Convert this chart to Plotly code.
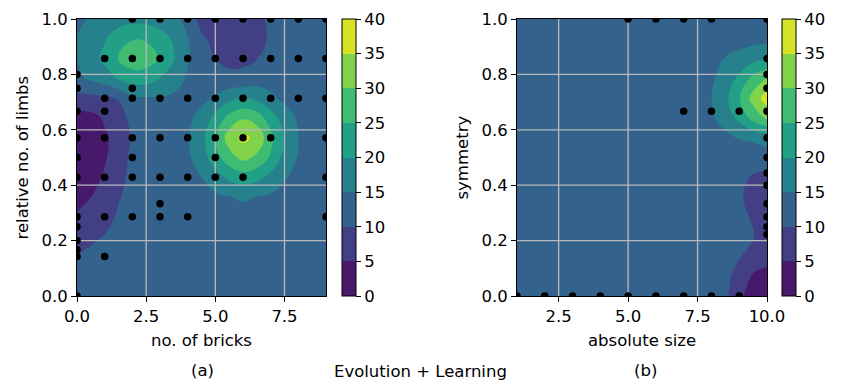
import plotly.graph_objects as go

# ---------------- panel (a): no. of bricks vs relative no. of limbs ----------------
bricks_grid = [0, 0.5, 1, 1.5, 2, 2.5, 3, 3.5, 4, 4.5, 5, 5.5, 6, 6.5, 7, 7.5, 8, 8.5, 9]
limbs_grid = [0, 1/14, 2/14, 3/14, 4/14, 5/14, 6/14, 7/14, 8/14, 9/14, 10/14, 11/14, 12/14, 13/14, 1]
fitness_a = [
    [12.5, 12.5, 12.5, 12.5, 12.5, 12.5, 12.5, 12.5, 12.5, 12.5, 12.5, 12.5, 12.5, 12.5, 12.5, 12.5, 12.5, 12.5, 12.5],
    [12.0, 12.3, 12.4, 12.5, 12.5, 12.5, 12.5, 12.5, 12.5, 12.5, 12.5, 12.5, 12.5, 12.5, 12.5, 12.5, 12.5, 12.5, 12.5],
    [10.2, 11.2, 11.8, 12.2, 12.4, 12.5, 12.5, 12.5, 12.5, 12.5, 12.5, 12.5, 12.5, 12.5, 12.5, 12.5, 12.5, 12.5, 12.5],
    [7.8, 9.0, 10.3, 11.5, 12.1, 12.4, 12.5, 12.5, 12.5, 12.5, 12.5, 12.5, 12.5, 12.5, 12.5, 12.5, 12.5, 12.5, 12.5],
    [5.6, 7.0, 7.9, 10.8, 12.3, 12.5, 12.5, 12.5, 12.5, 12.6, 12.8, 13.0, 13.1, 13.0, 12.8, 12.6, 12.5, 12.5, 12.5],
    [3.5, 5.0, 6.6, 9.6, 11.8, 12.3, 12.5, 12.5, 12.8, 13.2, 14.1, 14.8, 15.6, 14.9, 14.3, 13.4, 12.8, 12.6, 12.5],
    [2.0, 3.3, 5.6, 8.6, 11.2, 12.1, 12.5, 12.7, 13.4, 15.0, 17.8, 21.0, 22.6, 21.5, 18.5, 15.4, 13.6, 12.8, 12.6],
    [1.5, 2.5, 4.5, 7.6, 11.2, 11.7, 12.6, 12.9, 14.2, 17.4, 22.9, 28.0, 31.5, 29.0, 24.3, 18.3, 14.6, 13.1, 12.6],
    [2.0, 2.8, 4.3, 7.0, 10.6, 11.7, 12.6, 13.0, 14.5, 18.3, 24.9, 32.4, 36.3, 33.7, 26.5, 19.4, 15.0, 13.2, 12.6],
    [3.3, 3.4, 5.6, 8.0, 11.5, 12.4, 12.8, 12.9, 13.9, 16.6, 21.4, 26.7, 29.5, 27.6, 22.5, 17.4, 14.3, 13.0, 12.6],
    [8.7, 8.7, 9.3, 10.3, 14.3, 14.6, 14.7, 14.1, 13.7, 13.8, 15.6, 18.6, 19.8, 19.0, 15.9, 14.0, 13.3, 12.7, 12.5],
    [14.0, 15.9, 17.5, 20.6, 22.4, 22.2, 19.9, 17.3, 14.4, 13.7, 12.2, 11.0, 11.3, 12.4, 12.9, 13.0, 12.7, 12.5, 12.5],
    [15.0, 17.7, 21.3, 25.2, 28.0, 27.6, 24.4, 20.3, 15.4, 12.8, 10.05, 9.0, 9.0, 9.9, 12.4, 12.5, 12.5, 12.5, 12.5],
    [15.2, 16.8, 19.6, 23.2, 24.7, 24.5, 22.5, 19.2, 15.2, 11.0, 8.2, 7.8, 8.0, 8.6, 10.6, 12.2, 12.5, 12.5, 12.5],
    [14.2, 15.4, 16.0, 17.5, 18.5, 18.3, 17.2, 16.5, 13.0, 8.0, 7.6, 7.4, 7.6, 8.8, 11.0, 12.3, 12.5, 12.5, 12.5],
]
bricks_pts = [2, 3, 4, 5, 6, 7, 8, 9,
              1, 2, 3, 4, 5, 6, 7, 8, 9,
              0,
              0, 2,
              1, 2, 3, 4, 5, 6, 7, 8, 9,
              0, 1,
              0, 1, 2, 3, 4, 5, 6, 7, 9,
              0, 2, 5,
              0, 1, 2, 3, 4, 5, 6, 9,
              3,
              0, 1, 2, 3, 4, 9,
              0, 0, 0,
              0, 1,
              0]
limbs_pts = [1, 1, 1, 1, 1, 1, 1, 1,
             6/7, 6/7, 6/7, 6/7, 6/7, 6/7, 6/7, 6/7, 6/7,
             0.8,
             0.75, 0.75,
             5/7, 5/7, 5/7, 5/7, 5/7, 5/7, 5/7, 5/7, 5/7,
             2/3, 2/3,
             4/7, 4/7, 4/7, 4/7, 4/7, 4/7, 4/7, 4/7, 4/7,
             0.5, 0.5, 0.5,
             3/7, 3/7, 3/7, 3/7, 3/7, 3/7, 3/7, 3/7,
             1/3,
             2/7, 2/7, 2/7, 2/7, 2/7, 2/7,
             0.25, 0.2, 1/6,
             1/7, 1/7,
             0]

# ---------------- panel (b): absolute size vs symmetry ----------------
size_grid = [1, 1.5, 2, 2.5, 3, 3.5, 4, 4.5, 5, 5.5, 6, 6.5, 7, 7.5, 8, 8.5, 9, 9.5, 10]
sym_grid = [0, 1/14, 2/14, 3/14, 4/14, 5/14, 6/14, 7/14, 8/14, 9/14, 10/14, 11/14, 12/14, 13/14, 1]
B = 12.5
fitness_b = [
    [B, B, B, B, B, B, B, B, B, B, B, B, B, 12.5, 12.4, 11.4, 5.8, 3.0, 2.0],
    [B, B, B, B, B, B, B, B, B, B, B, B, B, 12.5, 12.5, 11.6, 7.8, 4.5, 3.9],
    [B, B, B, B, B, B, B, B, B, B, B, B, B, 12.5, 12.5, 12.2, 10.5, 7.5, 6.2],
    [B, B, B, B, B, B, B, B, B, B, B, B, B, 12.5, 12.5, 12.5, 11.5, 10.3, 7.5],
    [B, B, B, B, B, B, B, B, B, B, B, B, B, 12.5, 12.5, 12.5, 11.0, 9.6, 7.5],
    [B, B, B, B, B, B, B, B, B, B, B, B, B, 12.5, 12.5, 12.5, 10.4, 9.0, 7.3],
    [B, B, B, B, B, B, B, B, B, B, B, B, B, 12.5, 12.5, 12.5, 10.8, 9.7, 8.8],
    [B, B, B, B, B, B, B, B, B, B, B, B, B, 12.5, 12.5, 12.5, 12.0, 11.5, 12.5],
    [B, B, B, B, B, B, B, B, B, B, B, B, B, 12.6, 12.95, 13.7, 15.3, 16.2, 17.2],
    [B, B, B, B, B, B, B, B, B, B, B, B, B, 12.9, 14.3, 17.1, 21.3, 26.7, 30.8],
    [B, B, B, B, B, B, B, B, B, B, B, B, 12.6, 13.0, 14.9, 18.8, 24.5, 31.9, 37.5],
    [B, B, B, B, B, B, B, B, B, B, B, B, B, 12.9, 14.2, 17.0, 21.1, 26.5, 30.5],
    [B, B, B, B, B, B, B, B, B, B, B, B, B, 12.6, 13.4, 15.2, 16.5, 18.4, 19.5],
    [B, B, B, B, B, B, B, B, B, B, B, B, B, 12.5, 12.5, 12.8, 13.0, 13.3, 13.5],
    [B, B, B, B, B, B, B, B, B, B, B, B, B, B, B, B, B, B, B],
]
size_pts = [5, 6, 7, 8, 10,
            7, 8, 9, 10,
            10, 10, 10, 10, 10, 10, 10, 10, 10, 10, 10,
            1, 2, 3, 4, 5, 6, 7, 8, 9]
sym_pts = [1, 1, 1, 1, 1,
           2/3, 2/3, 2/3, 2/3,
           6/7, 0.8, 0.75, 4/7, 0.5, 4/9, 0.4, 1/3, 2/7, 0.25, 2/9,
           0, 0, 0, 0, 0, 0, 0, 0, 0]

# ---------------- ticks / levels ----------------
levels = [0, 5, 10, 15, 20, 25, 30, 35, 40]
xa_ticks = [0, 2.5, 5, 7.5]
xa_text = ["0.0", "2.5", "5.0", "7.5"]
xb_ticks = [2.5, 5, 7.5, 10]
xb_text = ["2.5", "5.0", "7.5", "10.0"]
y_ticks = [0, 0.2, 0.4, 0.6, 0.8, 1.0]
y_text = ["0.0", "0.2", "0.4", "0.6", "0.8", "1.0"]

band_colors = ["#48186a", "#423f85", "#33638d", "#27818d",
               "#229f87", "#40bc72", "#82d34c", "#d5e226"]
n = len(band_colors)
colorscale = []
for i, c in enumerate(band_colors):
    colorscale.append([i / n, c])
    colorscale.append([(i + 1) / n, c])

FONT = "DejaVu Sans"
FS = 16.5
WIN_W, WIN_H = 843, 391
PAGE_MARGIN = 8            # default body margin of the html page
W = WIN_W - 2 * PAGE_MARGIN
H = WIN_H - 2 * PAGE_MARGIN

# pixel layout (window coordinates)
ax_a = (77, 326)
ax_b = (517, 767)
ax_y = (19, 296)
cb_a_x = 342
cb_b_x = 782
cb_w = 14


def px_x(p):
    return (p - PAGE_MARGIN) / W


def px_y(p):
    return 1 - (p - PAGE_MARGIN) / H


ydom = [px_y(ax_y[1]), px_y(ax_y[0])]


def colorbar(xpix):
    return dict(
        x=px_x(xpix), xanchor="left", y=ydom[0], yanchor="bottom",
        len=ydom[1] - ydom[0], lenmode="fraction",
        thickness=cb_w, thicknessmode="pixels",
        xpad=0, ypad=0, outlinewidth=1, outlinecolor="black",
        ticks="outside", ticklen=5, tickwidth=1, tickcolor="black",
        tickvals=levels, ticktext=[str(v) for v in levels],
        tickfont=dict(family=FONT, size=FS, color="black"),
    )


def contour(xg, yg, z, xa, ya, cbx):
    return go.Contour(
        x=xg, y=yg, z=z, xaxis=xa, yaxis=ya,
        colorscale=colorscale, zmin=0, zmax=40, zauto=False,
        contours=dict(start=levels[0], end=levels[-1], size=5,
                      coloring="fill", showlines=False),
        line=dict(width=0, smoothing=1.3),
        colorbar=colorbar(cbx), hoverinfo="skip",
    )


def grid_lines(xt, yt, xr, yr, xa, ya):
    xs, ys = [], []
    for v in xt:
        if xr[0] < v < xr[1]:
            xs += [v, v, None]
            ys += [yr[0], yr[1], None]
    for v in yt:
        if yr[0] < v < yr[1]:
            xs += [xr[0], xr[1], None]
            ys += [v, v, None]
    return go.Scatter(x=xs, y=ys, mode="lines", xaxis=xa, yaxis=ya,
                      line=dict(color="#b9b9b9", width=1.3),
                      hoverinfo="skip", showlegend=False)


def dots(xs, ys, xa, ya):
    return go.Scatter(x=xs, y=ys, mode="markers", xaxis=xa, yaxis=ya,
                      marker=dict(color="black", size=7.5, line=dict(width=0)),
                      hoverinfo="skip", showlegend=False, cliponaxis=True)


xr_a = [bricks_grid[0], bricks_grid[-1]]
xr_b = [size_grid[0], size_grid[-1]]
yr = [0, 1]

fig = go.Figure()
fig.add_trace(contour(bricks_grid, limbs_grid, fitness_a, "x", "y", cb_a_x))
fig.add_trace(grid_lines(xa_ticks, y_ticks, xr_a, yr, "x", "y"))
fig.add_trace(dots(bricks_pts, limbs_pts, "x", "y"))
fig.add_trace(contour(size_grid, sym_grid, fitness_b, "x2", "y2", cb_b_x))
fig.add_trace(grid_lines(xb_ticks, y_ticks, xr_b, yr, "x2", "y2"))
fig.add_trace(dots(size_pts, sym_pts, "x2", "y2"))

axis_common = dict(
    showgrid=False, zeroline=False, showline=True, mirror=True,
    linecolor="black", linewidth=1, ticks="outside", ticklen=5,
    tickwidth=1, tickcolor="black", automargin=False,
    tickfont=dict(family=FONT, size=FS, color="black"),
)

fig.update_layout(
    width=W, height=H,
    margin=dict(l=0, r=0, t=0, b=0, pad=0, autoexpand=False),
    paper_bgcolor="white", plot_bgcolor="white", showlegend=False,
    font=dict(family=FONT, size=FS, color="black"),
    xaxis=dict(domain=[px_x(ax_a[0]), px_x(ax_a[1])], range=xr_a,
               tickvals=xa_ticks, ticktext=xa_text, anchor="y", **axis_common),
    yaxis=dict(domain=ydom, range=yr, tickvals=y_ticks, ticktext=y_text,
               anchor="x", **axis_common),
    xaxis2=dict(domain=[px_x(ax_b[0]), px_x(ax_b[1])], range=xr_b,
                tickvals=xb_ticks, ticktext=xb_text, anchor="y2", **axis_common),
    yaxis2=dict(domain=ydom, range=yr, tickvals=y_ticks, ticktext=y_text,
                anchor="x2", **axis_common),
)


def note(text, xpix, ypix, angle=0):
    fig.add_annotation(text=text, x=px_x(xpix), y=px_y(ypix), xref="paper",
                       yref="paper", showarrow=False, textangle=angle,
                       xanchor="center", yanchor="middle",
                       font=dict(family=FONT, size=FS, color="black"))


note("no. of bricks", (ax_a[0] + ax_a[1]) / 2, 340)
note("absolute size", (ax_b[0] + ax_b[1]) / 2, 340)
note("relative no. of limbs", 22, (ax_y[0] + ax_y[1]) / 2, -90)
note("symmetry", 462, (ax_y[0] + ax_y[1]) / 2, -90)
note("(a)", 202, 370)
note("(b)", 645, 370)
note("Evolution + Learning", 420.5, 371)

fig.write_html("out.html")
